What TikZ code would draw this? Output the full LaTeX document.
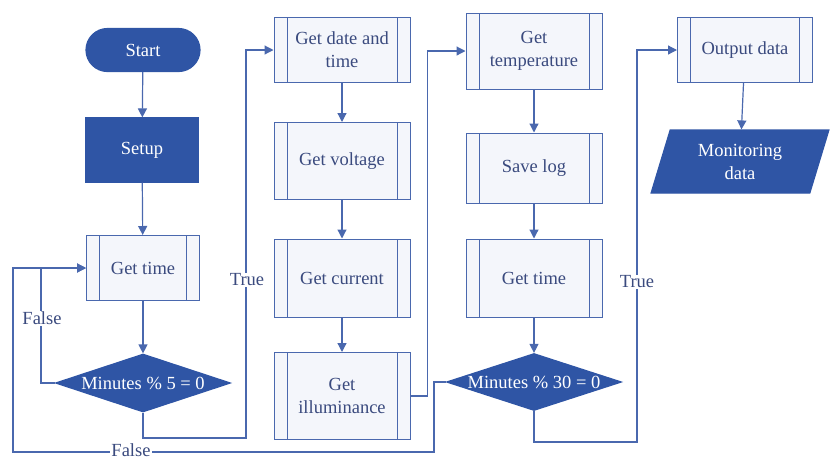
\documentclass[tikz,border=0pt]{standalone}
\usepackage{fontspec}
\setmainfont{Liberation Serif}
\usetikzlibrary{shapes.geometric,shapes.misc,arrows.meta}
\definecolor{darkfill}{HTML}{2F55A5}
\definecolor{edge}{HTML}{4A68AE}
\definecolor{lightfill}{HTML}{F4F6FB}
\definecolor{txt}{HTML}{3A4A7E}
\tikzset{
  base/.style={font=\fontsize{18.5}{23}\selectfont, align=center, inner sep=0pt, line width=1.2pt},
  terminal/.style={base, rounded rectangle, fill=darkfill, draw=darkfill, text=white,
    minimum width=114pt, minimum height=43pt},
  process/.style={base, rectangle, fill=darkfill, draw=darkfill, text=white,
    minimum width=112pt, minimum height=64pt},
  predef/.style={base, rectangle, fill=lightfill, draw=edge, text=txt, line width=1pt,
    minimum width=136pt,
    path picture={
      \draw[edge, line width=1pt]
        ([xshift=13pt]path picture bounding box.north west) -- ([xshift=13pt]path picture bounding box.south west)
        ([xshift=-13pt]path picture bounding box.north east) -- ([xshift=-13pt]path picture bounding box.south east);
    }},
  decision/.style={base, diamond, aspect=3, fill=darkfill, draw=darkfill, text=white,
    minimum width=175pt, minimum height=58pt},
  iobox/.style={base, trapezium, trapezium left angle=72, trapezium right angle=108,
    trapezium stretches=true, fill=darkfill, draw=darkfill, text=white,
    minimum width=178pt, minimum height=63pt},
  flow/.style={draw=edge, line width=1.2pt, -{Triangle[length=9pt,width=9pt]}},
  tag/.style={font=\fontsize{18.5}{22}\selectfont, text=txt, fill=white, inner sep=1pt},
}
\begin{document}
\begin{tikzpicture}[x=1pt, y=-1pt]
  \useasboundingbox (0,0) rectangle (830,459);

  % first column
  \node[terminal] (start) at (143,50) {Start};
  \node[process] (setup) at (142,150) {Setup};
  \node[predef, minimum width=113pt, minimum height=65pt] (gt1) at (143,268) {Get time};
  \node[decision] (d1) at (143,383) {Minutes \% 5 = 0};

  % second column
  \node[predef, minimum height=65pt] (gdt) at (342,50) {Get date and\\time};
  \node[predef, minimum height=77pt] (gv) at (342,161) {Get voltage};
  \node[predef, minimum height=78pt] (gc) at (342,278) {Get current};
  \node[predef, minimum height=87pt] (gi) at (342,396) {Get\\illuminance};

  % third column
  \node[predef, minimum height=76pt] (gtemp) at (534,51) {Get\\temperature};
  \node[predef, minimum height=70pt] (sl) at (534,168) {Save log};
  \node[predef, minimum height=78pt] (gt2) at (534,278) {Get time};
  \node[decision, minimum height=57pt] (d2) at (534,382) {Minutes \% 30 = 0};

  % output column
  \node[predef, minimum width=135pt, minimum height=65pt] (od) at (745,50) {Output data};
  \node[iobox] (md) at (740,161.5) {Monitoring\\data};

  % junction points
  \coordinate (t1) at (246,438);
  \coordinate (t2) at (637,442);
  \coordinate (f2) at (13,452);

  % straight flow
  \draw[flow] (start) -- (setup);
  \draw[flow] (setup) -- (gt1);
  \draw[flow] (gt1) -- (d1);
  \draw[flow] (gdt) -- (gv);
  \draw[flow] (gv) -- (gc);
  \draw[flow] (gc) -- (gi);
  \draw[flow] (gtemp) -- (sl);
  \draw[flow] (sl) -- (gt2);
  \draw[flow] (gt2) -- (d2);
  \draw[flow] (od) -- (md);

  % branches and loops
  \draw[flow] (d1.west) -- ++(-14,0) |- (gt1.west);
  \draw[flow] (d1.south) |- (t1) |- (gdt.west);
  \draw[flow] (gi.east) -- ++(17,0) |- (gtemp.west);
  \draw[flow] (d2.south) |- (t2) |- (od.west);
  \draw[flow] (d2.west) -- ++(-12,0) |- (f2) |- (gt1.west);

  % branch labels
  \node[tag] (lf1) at (42,318) {False};
  \node[tag] (lt1) at (247,280) {True};
  \node[tag] (lt2) at (637,282) {True};
  \node[tag] (lf2) at (131,450) {False};
\end{tikzpicture}
\end{document}
